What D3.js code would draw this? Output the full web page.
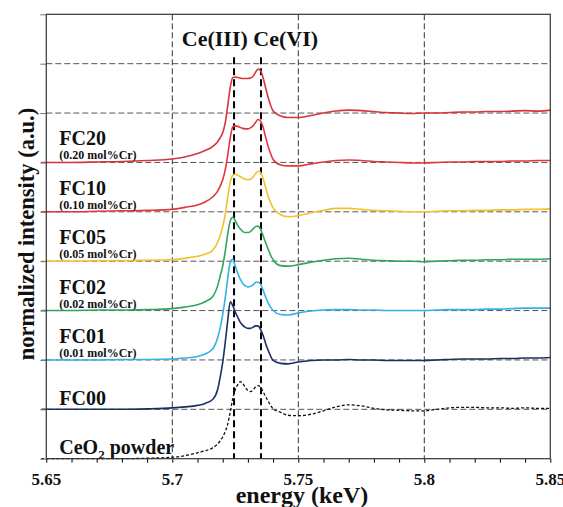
<!DOCTYPE html>
<html>
<head>
<meta charset="utf-8">
<script src="https://cdn.jsdelivr.net/npm/d3@7"></script>
<style>
  body { margin: 0; background: #fff; }
  svg text { font-family: "Liberation Serif", "Times New Roman", serif; font-weight: bold; fill: #111; }
</style>
</head>
<body>
<svg id="chart"></svg>
<script>
// Layout variables
let width = 563,
    height = 507;
let margin = { top: 14.3, right: 12.7, bottom: 48.3, left: 46.3 };
let w = width - margin.left - margin.right;
let h = height - margin.top - margin.bottom;

// Data
let energy = [5.648, 5.66, 5.67, 5.68, 5.69, 5.70, 5.705, 5.71, 5.713, 5.716,
    5.718, 5.719, 5.720, 5.721, 5.722, 5.723, 5.724, 5.725, 5.726, 5.727, 5.728,
    5.729, 5.730, 5.731, 5.732, 5.733, 5.734, 5.735, 5.736, 5.737, 5.738, 5.739, 5.740,
    5.743, 5.746, 5.75, 5.755, 5.76, 5.765, 5.77, 5.775, 5.78, 5.785, 5.79, 5.795,
    5.80, 5.805, 5.81, 5.815, 5.82, 5.825, 5.83, 5.835, 5.84, 5.845, 5.85];

let ceo2 = [0, 0, 0, 0, 0.01, 0.03, 0.06, 0.12, 0.16, 0.22,
    0.30, 0.36, 0.44, 0.55, 0.70, 0.95, 1.22, 1.40, 1.50, 1.56, 1.52,
    1.44, 1.38, 1.36, 1.39, 1.45, 1.48, 1.45, 1.36, 1.26, 1.17, 1.08, 1.01,
    0.94, 0.88, 0.87, 0.90, 0.97, 1.05, 1.09, 1.07, 1.02, 0.99, 0.98, 0.97,
    0.97, 1.00, 1.03, 1.04, 1.04, 1.03, 1.03, 1.02, 1.03, 1.02, 1.02];

let fc00 = [0, 0, 0, 0, 0.01, 0.03, 0.05, 0.08, 0.12, 0.20,
    0.40, 0.65, 0.95, 1.35, 1.80, 2.18, 2.10, 1.97, 1.86, 1.76, 1.70,
    1.66, 1.64, 1.64, 1.66, 1.69, 1.69, 1.62, 1.50, 1.34, 1.20, 1.08, 0.99,
    0.93, 0.92, 0.96, 0.99, 1.00, 1.00, 1.01, 1.00, 1.00, 0.99, 0.99, 0.99,
    0.99, 1.00, 1.01, 1.02, 1.02, 1.02, 1.03, 1.03, 1.04, 1.04, 1.05];

let fc01 = [0, 0, 0, 0.01, 0.01, 0.02, 0.04, 0.07, 0.12, 0.22,
    0.45, 0.65, 0.92, 1.25, 1.65, 1.98, 2.04, 1.90, 1.75, 1.63, 1.55,
    1.50, 1.48, 1.49, 1.52, 1.57, 1.58, 1.53, 1.42, 1.28, 1.16, 1.07, 1.00,
    0.92, 0.91, 0.95, 0.99, 1.01, 1.02, 1.02, 1.01, 1.01, 1.00, 1.00, 1.00,
    1.00, 1.01, 1.02, 1.02, 1.02, 1.03, 1.03, 1.04, 1.05, 1.05, 1.05];

let fc02 = [0, 0, 0.01, 0.01, 0.02, 0.04, 0.07, 0.12, 0.18, 0.28,
    0.50, 0.70, 0.90, 1.20, 1.55, 1.82, 1.89, 1.82, 1.72, 1.65, 1.60,
    1.58, 1.58, 1.60, 1.65, 1.70, 1.71, 1.65, 1.52, 1.38, 1.25, 1.12, 1.03,
    0.91, 0.90, 0.93, 0.98, 1.02, 1.05, 1.06, 1.04, 1.02, 1.01, 1.00, 1.00,
    0.99, 1.00, 1.01, 1.02, 1.02, 1.03, 1.03, 1.04, 1.04, 1.04, 1.05];

let fc05 = [0, 0, 0.01, 0.01, 0.02, 0.03, 0.06, 0.10, 0.14, 0.22,
    0.38, 0.52, 0.70, 0.95, 1.30, 1.60, 1.74, 1.76, 1.74, 1.71, 1.68,
    1.66, 1.65, 1.66, 1.70, 1.77, 1.82, 1.80, 1.68, 1.50, 1.32, 1.18, 1.08,
    0.94, 0.90, 0.92, 0.98, 1.03, 1.07, 1.07, 1.05, 1.03, 1.02, 1.01, 1.00,
    1.00, 1.01, 1.02, 1.02, 1.03, 1.03, 1.04, 1.04, 1.05, 1.05, 1.06];

let fc10 = [0, 0, 0.01, 0.02, 0.03, 0.05, 0.09, 0.14, 0.20, 0.30,
    0.42, 0.52, 0.65, 0.85, 1.15, 1.50, 1.72, 1.74, 1.73, 1.71, 1.69,
    1.68, 1.68, 1.70, 1.74, 1.81, 1.87, 1.84, 1.72, 1.52, 1.33, 1.18, 1.06,
    0.95, 0.93, 0.93, 0.97, 1.01, 1.04, 1.05, 1.04, 1.02, 1.01, 1.00, 0.99,
    0.99, 1.00, 1.01, 1.01, 1.02, 1.02, 1.02, 1.03, 1.03, 1.04, 1.04];

let fc20 = [0, 0, 0.01, 0.02, 0.04, 0.07, 0.11, 0.18, 0.24, 0.32,
    0.42, 0.50, 0.60, 0.80, 1.15, 1.52, 1.72, 1.73, 1.72, 1.71, 1.70,
    1.70, 1.70, 1.71, 1.74, 1.82, 1.89, 1.86, 1.72, 1.52, 1.32, 1.16, 1.04,
    0.94, 0.91, 0.91, 0.95, 1.00, 1.04, 1.06, 1.05, 1.03, 1.01, 1.00, 0.99,
    1.00, 1.00, 1.01, 1.02, 1.02, 1.03, 1.03, 1.04, 1.05, 1.04, 1.06];

let seriesValues = [ceo2, fc00, fc01, fc02, fc05, fc10, fc20];
let seriesNames = ["CeO2 powder", "FC00", "FC01", "FC02", "FC05", "FC10", "FC20"];
let subLabels = ["", "", "(0.01 mol%Cr)", "(0.02 mol%Cr)", "(0.05 mol%Cr)", "(0.10 mol%Cr)", "(0.20 mol%Cr)"];
let offsets = [0, 1, 2, 3, 4, 5, 6];
let colors = ["#111111", "#1c2f63", "#33b2e3", "#2fa65c", "#f2c12e", "#e2363b", "#d6353a"];

let xTicks = [5.65, 5.7, 5.75, 5.8, 5.85];
let xTickLabels = ["5.65", "5.7", "5.75", "5.8", "5.85"];
let xMinorTicks = [5.66, 5.67, 5.68, 5.69, 5.71, 5.72, 5.73, 5.74, 5.76, 5.77, 5.78, 5.79, 5.81, 5.82, 5.83, 5.84];
let yTicks = [0, 1, 2, 3, 4, 5, 6, 7, 8, 9];
let ceLines = [5.7245, 5.7352];

// Scales
let x = d3.scaleLinear().domain([5.65, 5.85]).range([0, w]);
let y = d3.scaleLinear().domain([0, 9]).range([h, 0]);

let svg = d3.select("#chart")
    .attr("width", width)
    .attr("height", height);
let g = svg.append("g")
    .attr("transform", "translate(" + margin.left + "," + margin.top + ")");

// Grid lines
g.selectAll(".hgrid")
    .data(yTicks.slice(1, -1))
    .enter().append("line")
    .attr("x1", 0).attr("x2", w)
    .attr("y1", d => y(d)).attr("y2", d => y(d))
    .attr("stroke", "#555")
    .attr("stroke-dasharray", "6,3");

g.selectAll(".vgrid")
    .data(xTicks.slice(1, -1))
    .enter().append("line")
    .attr("x1", d => x(d)).attr("x2", d => x(d))
    .attr("y1", 0).attr("y2", h)
    .attr("stroke", "#333")
    .attr("stroke-dasharray", "6,3");

// Ce(III) / Ce(VI) reference lines
g.selectAll(".celine")
    .data(ceLines)
    .enter().append("line")
    .attr("x1", d => x(d)).attr("x2", d => x(d))
    .attr("y1", 43).attr("y2", h)
    .attr("stroke", "#000")
    .attr("stroke-width", 2)
    .attr("stroke-dasharray", "7,4");

g.append("text")
    .attr("x", 135.5)
    .attr("y", 32)
    .attr("font-size", "22px")
    .text("Ce(III) Ce(VI)");

// Spectra
let line = d3.line()
    .x(d => x(d[0]))
    .y(d => y(d[1]))
    .curve(d3.curveMonotoneX);

seriesValues.forEach(function(vals, i) {
    let pts = energy.map((e, k) => [e, vals[k] + offsets[i]]);
    g.append("path")
        .datum(pts)
        .attr("fill", "none")
        .attr("stroke", colors[i])
        .attr("stroke-width", i == 0 ? 1.3 : 1.6)
        .attr("stroke-dasharray", i == 0 ? "3,2" : null)
        .attr("d", line);
});

// Series labels
seriesNames.forEach(function(name, i) {
    let base = y(offsets[i]);
    if (i == 0) {
        let t = g.append("text")
            .attr("x", 13)
            .attr("y", base - 5)
            .attr("font-size", "20px");
        t.append("tspan").text("CeO");
        t.append("tspan").attr("font-size", "13px").attr("dy", 5).text("2");
        t.append("tspan").attr("dy", -5).text(" powder");
    } else if (subLabels[i] == "") {
        g.append("text")
            .attr("x", 13)
            .attr("y", base - 4.5)
            .attr("font-size", "20px")
            .text(name);
    } else {
        g.append("text")
            .attr("x", 13)
            .attr("y", base - 17)
            .attr("font-size", "20px")
            .text(name);
        g.append("text")
            .attr("x", 13)
            .attr("y", base - 3)
            .attr("font-size", "12px")
            .text(subLabels[i]);
    }
});

// Axes (ticks from d3, labels drawn as plain serif text)
g.append("g")
    .attr("transform", "translate(0," + h + ")")
    .call(d3.axisBottom(x).tickValues(xTicks.concat(xMinorTicks)).tickSize(4).tickFormat(""))
    .select(".domain").remove();

g.selectAll(".xlabel")
    .data(xTicks)
    .enter().append("text")
    .attr("x", d => x(d))
    .attr("y", h + 26.5)
    .attr("text-anchor", "middle")
    .attr("font-size", "17px")
    .text((d, i) => xTickLabels[i]);

let yAxis = g.append("g")
    .call(d3.axisLeft(y).tickValues(yTicks).tickSize(6).tickFormat(""));
yAxis.select(".domain").remove();
yAxis.selectAll("line").attr("stroke", "#777");

// Frame
g.append("rect")
    .attr("width", w)
    .attr("height", h)
    .attr("fill", "none")
    .attr("stroke", "#333")
    .attr("stroke-width", 1.2);

// Axis titles
svg.append("text")
    .attr("x", 302)
    .attr("y", 503)
    .attr("text-anchor", "middle")
    .attr("font-size", "24px")
    .text("energy (keV)");

svg.append("text")
    .attr("transform", "translate(34,234) rotate(-90)")
    .attr("text-anchor", "middle")
    .attr("font-size", "22.5px")
    .text("normalized intensity (a.u.)");
</script>
</body>
</html>
